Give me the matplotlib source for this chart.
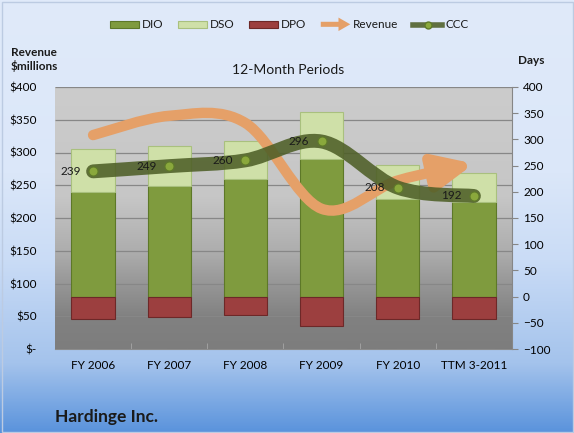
import numpy as np
import matplotlib
matplotlib.use("Agg")
import matplotlib.pyplot as plt
from matplotlib.path import Path
from matplotlib.patches import FancyArrowPatch, FancyArrow, PathPatch, Rectangle, Patch, ArrowStyle
from matplotlib.lines import Line2D
from matplotlib.colors import LinearSegmentedColormap
from matplotlib.legend_handler import HandlerPatch

# dados
periods = ["FY 2006", "FY 2007", "FY 2008", "FY 2009", "FY 2010", "TTM 3-2011"]
dio = [200, 211, 225, 262, 186, 181]
dso = [82, 76, 71, 90, 65, 54]
dpo = [43, 38, 36, 56, 43, 43]
ccc = [239, 249, 260, 296, 208, 192]
revenue = [326.6, 356.0, 345.0, 214.1, 257.2, 283.0]

rev_ticks = [0, 50, 100, 150, 200, 250, 300, 350, 400]
rev_labels = ["$-", "$50", "$100", "$150", "$200", "$250", "$300", "$350", "$400"]
day_ticks = [-100, -50, 0, 50, 100, 150, 200, 250, 300, 350, 400]

# cores
c_dio, c_dio_e = "#7f9b3e", "#5d7828"
c_dso, c_dso_e = "#cfe0a8", "#a9c07e"
c_dpo, c_dpo_e = "#9c3f3f", "#6d2828"
c_rev = "#e5a068"
c_ccc = (0.30, 0.37, 0.15, 0.87)
c_mark, c_mark_e = "#8aa83c", "#5f7a2a"

plt.rcParams["font.family"] = ["Lato", "DejaVu Sans"]
plt.rcParams["text.color"] = "#1a1a1a"


def smooth_path(xs, ys, k=1 / 6):
    # curva suavizada estilo Excel (Bezier cubica / Catmull-Rom)
    pts = np.column_stack([xs, ys]).astype(float)
    n = len(pts)
    verts = [pts[0]]
    codes = [Path.MOVETO]
    for i in range(n - 1):
        p0 = pts[max(i - 1, 0)]
        p1 = pts[i]
        p2 = pts[i + 1]
        p3 = pts[min(i + 2, n - 1)]
        verts += [p1 + (p2 - p0) * k, p2 - (p3 - p1) * k, p2]
        codes += [Path.CURVE4] * 3
    return Path(verts, codes)


class ArrowHandler(HandlerPatch):
    def create_artists(self, legend, orig_handle, xdescent, ydescent,
                       width, height, fontsize, trans):
        arr = FancyArrow(-xdescent, -ydescent + height / 2, width, 0,
                         width=height * 0.75, head_width=height * 2.0,
                         head_length=width * 0.4, length_includes_head=True,
                         color=c_rev, lw=0)
        arr.set_transform(trans)
        return [arr]


fig = plt.figure(figsize=(5.74, 4.33), dpi=100)

# fundo da figura em degrade
bg = fig.add_axes([0, 0, 1, 1], zorder=-10)
bg.axis("off")
fig_cmap = LinearSegmentedColormap.from_list(
    "figbg", [(0, "#e0eafa"), (0.4, "#dbe7f9"), (0.6, "#cadcf6"),
              (0.84, "#a4c3ec"), (1, "#5a93dc")])
bg.imshow(np.linspace(0, 1, 256).reshape(-1, 1), cmap=fig_cmap,
          aspect="auto", extent=[0, 1, 0, 1])
bg.set_xlim(0, 1)
bg.set_ylim(0, 1)

W, H = 574, 433
ax = fig.add_axes([55 / W, 1 - 349 / H, 457 / W, 262 / H])
ax.set_facecolor("none")
plot_cmap = LinearSegmentedColormap.from_list(
    "plotbg", [(0, "#cccccc"), (0.42, "#c6c6c6"), (0.63, "#adadad"),
               (0.76, "#959595"), (0.88, "#818181"), (1, "#7d7d7d")])
ax.imshow(np.linspace(0, 1, 256).reshape(-1, 1), cmap=plot_cmap,
          aspect="auto", extent=[0, 1, 0, 1], transform=ax.transAxes, zorder=0)

ax_rev = ax.twinx()
ax.yaxis.tick_right()
ax_rev.yaxis.tick_left()

x = np.arange(len(periods))
bw = 0.57
b_dio = ax.bar(x, dio, width=bw, color=c_dio, edgecolor=c_dio_e, lw=0.8, zorder=2)
b_dso = ax.bar(x, dso, bottom=dio, width=bw, color=c_dso, edgecolor=c_dso_e, lw=0.8, zorder=2)
b_dpo = ax.bar(x, -np.array(dpo), width=bw, color=c_dpo, edgecolor=c_dpo_e, lw=0.8, zorder=2)

# linhas de grade da escala de receita
ax.hlines(rev_ticks[1:], 0, 1, transform=ax_rev.get_yaxis_transform(),
          colors="#878787", lw=0.9, zorder=1)

# receita (linha suavizada com seta)
rev_arrow = FancyArrowPatch(path=smooth_path(x, revenue),
                            arrowstyle=ArrowStyle("-|>", head_length=23, head_width=10.5),
                            mutation_scale=1, lw=7.5, color=c_rev,
                            transform=ax_rev.transData, zorder=3)
rev_arrow.set_capstyle("round")
ax.add_patch(rev_arrow)

# ciclo de caixa (CCC)
ax.add_patch(PathPatch(smooth_path(x, ccc), fill=False, lw=10,
                       edgecolor=c_ccc, capstyle="round", zorder=4))
ax.plot(x, ccc, "o", ms=6.5, mfc=c_mark, mec=c_mark_e, mew=0.8, zorder=5)
for xi, c in zip(x, ccc):
    ax.annotate(str(c), (xi, c), xytext=(-9, 0), textcoords="offset points",
                ha="right", va="center", fontsize=8.5, zorder=6)

ax.set_xlim(-0.5, 5.5)
ax.set_ylim(-100, 400)
ax_rev.set_ylim(0, 400)

ax.set_xticks(x, periods)
ax.set_xticks(np.arange(0.5, 5, 1), minor=True)
ax.set_yticks(day_ticks)
ax_rev.set_yticks(rev_ticks, rev_labels)
ax.tick_params(axis="x", which="major", length=0, pad=8, labelsize=8.5)
ax.tick_params(axis="x", which="minor", direction="in", length=4, color="#a6a6a6")
ax.tick_params(axis="y", length=4, color="#868686", labelsize=8.5, pad=4)
ax_rev.tick_params(axis="y", length=0, pad=13, labelsize=8.5)

for s in ax_rev.spines.values():
    s.set_visible(False)
ax.spines["top"].set_visible(False)
ax.spines["left"].set_visible(False)
ax.spines["right"].set_color("#868686")
ax.spines["bottom"].set_color("#8c8c8c")

# legenda
rev_proxy = Patch(color=c_rev)
ccc_proxy = Line2D([], [], color=c_ccc, lw=4, marker="o", ms=5,
                   mfc=c_mark, mec=c_mark_e)
fig.legend([b_dio, b_dso, b_dpo, rev_proxy, ccc_proxy],
           ["DIO", "DSO", "DPO", "Revenue", "CCC"],
           handler_map={rev_proxy: ArrowHandler()},
           loc="center", bbox_to_anchor=(289 / W, 1 - 25 / H), ncol=5,
           frameon=False, fontsize=8.5, handlelength=2.5, handleheight=0.5,
           handletextpad=0.25, columnspacing=1.2, numpoints=1)

fig.text(34 / W, 1 - 52 / H, "Revenue", ha="center", va="center", fontsize=8.5, weight="bold")
fig.text(34 / W, 1 - 66 / H, "$millions", ha="center", va="center", fontsize=8.5, weight="bold")
fig.text(531 / W, 1 - 60 / H, "Days", ha="center", va="center", fontsize=8.5, weight="bold")
fig.text(288 / W, 1 - 70 / H, "12-Month Periods", ha="center", va="center", fontsize=10)
fig.text(55 / W, 1 - 417 / H, "Hardinge Inc.", ha="left", va="center", fontsize=12.5, weight="bold")

fig.patches.append(Rectangle((1.5 / W, 1.5 / H), 1 - 3 / W, 1 - 3 / H,
                             transform=fig.transFigure, fill=False,
                             edgecolor="#bccbe2", lw=1))

fig.savefig("out.png", dpi=100)
